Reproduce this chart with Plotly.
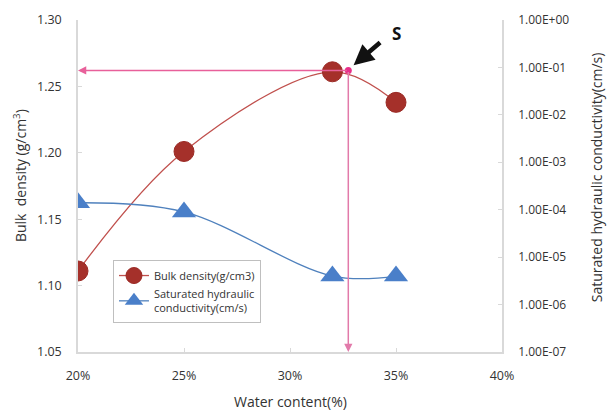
import plotly.graph_objects as go

water_content = [20, 25, 32, 35]
bulk_density = [1.111, 1.201, 1.261, 1.238]
hydraulic_cond = [1.4e-4, 9.0e-5, 4.0e-6, 4.0e-6]
s_point_x = [32.75]
s_point_y = [1.262]
x_ticks = [20, 25, 30, 35, 40]
x_ticktext = ["20%", "25%", "30%", "35%", "40%"]
y_ticks = [1.05, 1.10, 1.15, 1.20, 1.25, 1.30]
y2_exp = [0, -1, -2, -3, -4, -5, -6, -7]
y2_ticktext = ["1.00E+00", "1.00E-01", "1.00E-02", "1.00E-03", "1.00E-04", "1.00E-05", "1.00E-06", "1.00E-07"]

FONT = "Open Sans"
TXT = "#333333"
GRID = "#D9D9D9"

fig = go.Figure()

fig.add_trace(go.Scatter(
    x=water_content, y=bulk_density, name="Bulk density(g/cm3)",
    mode="lines+markers", line=dict(color="#C0504D", width=1.3, shape="spline"),
    marker=dict(symbol="circle", size=20, color="#A5302A", line=dict(color="#9B2A25", width=1)),
    yaxis="y"))

fig.add_trace(go.Scatter(
    x=water_content, y=hydraulic_cond, name="Saturated hydraulic<br>conductivity(cm/s)",
    mode="lines+markers", line=dict(color="#4F81BD", width=1.3, shape="spline"),
    marker=dict(symbol="triangle-up", size=21, color="#4A7FC9"),
    yaxis="y2"))

fig.add_trace(go.Scatter(
    x=s_point_x, y=s_point_y, mode="markers", showlegend=False,
    marker=dict(size=7, color="#E8308A"), yaxis="y"))

# pink guide arrows
fig.add_annotation(x=x_ticks[0], y=s_point_y[0], ax=s_point_x[0], ay=s_point_y[0],
                   xref="x", yref="y", axref="x", ayref="y", text="",
                   showarrow=True, arrowhead=2, arrowsize=1.1, arrowwidth=1.5, arrowcolor="#E8609A")
fig.add_annotation(x=s_point_x[0], y=y_ticks[0], ax=s_point_x[0], ay=s_point_y[0],
                   xref="x", yref="y", axref="x", ayref="y", text="",
                   showarrow=True, arrowhead=2, arrowsize=1.1, arrowwidth=1.5, arrowcolor="#E27AAA")

# black arrow and S label
fig.add_annotation(x=33.0, y=1.266, xref="x", yref="y", ax=28, ay=-24, text="",
                   showarrow=True, arrowhead=2, arrowsize=0.9, arrowwidth=4.5, arrowcolor="#111111")
fig.add_annotation(x=35.0, y=1.29, xref="x", yref="y", text="<b>S</b>", showarrow=False,
                   font=dict(family=FONT, size=17, color="#111111"))

# axis titles
fig.add_annotation(x=-0.165, y=0.53, xref="paper", yref="paper", text="Bulk  density (g/cm<sup>3</sup>)",
                   textangle=-90, showarrow=False, font=dict(family=FONT, size=14, color=TXT))
fig.add_annotation(x=1.25, y=0.525, xref="paper", yref="paper",
                   text="Saturated hydraulic conductivity(cm/s)",
                   textangle=-90, showarrow=False, font=dict(family=FONT, size=14, color=TXT))
fig.add_annotation(x=0.5, y=-0.15, xref="paper", yref="paper", text="Water content(%)",
                   yanchor="middle", showarrow=False, font=dict(family=FONT, size=14, color=TXT))

tickfont = dict(family=FONT, size=12.5, color=TXT)
fig.update_layout(
    width=609, height=412,
    margin=dict(l=78, r=107, t=20, b=60),
    paper_bgcolor="white", plot_bgcolor="white",
    font=dict(family=FONT, size=12, color=TXT),
    xaxis=dict(range=[20, 40], tickvals=x_ticks, ticktext=x_ticktext, showgrid=False,
               showline=True, linecolor=GRID, linewidth=1.5, ticks="inside", ticklen=4,
               tickcolor=GRID, zeroline=False, ticklabelstandoff=11, tickfont=tickfont),
    yaxis=dict(range=[1.05, 1.30], tickvals=y_ticks, tickformat=".2f", showgrid=False,
               showline=True, linecolor=GRID, linewidth=1.5, ticks="inside", ticklen=4,
               tickcolor=GRID, zeroline=False, ticklabelstandoff=12, tickfont=tickfont),
    yaxis2=dict(type="log", range=[-7, 0], overlaying="y", side="right",
                tickvals=[10 ** e for e in y2_exp], ticktext=y2_ticktext, showgrid=False,
                showline=True, linecolor=GRID, linewidth=1.5, ticks="inside", ticklen=4,
                tickcolor=GRID, zeroline=False, ticklabelstandoff=12,
                tickfont=dict(family=FONT, size=12, color=TXT)),
    legend=dict(x=0.0825, y=0.277, xanchor="left", yanchor="top",
                bordercolor="#BFBFBF", borderwidth=1, bgcolor="white",
                font=dict(family=FONT, size=11, color=TXT), tracegroupgap=2,
                itemwidth=30),
    showlegend=True,
)

fig.write_html("out.html")
